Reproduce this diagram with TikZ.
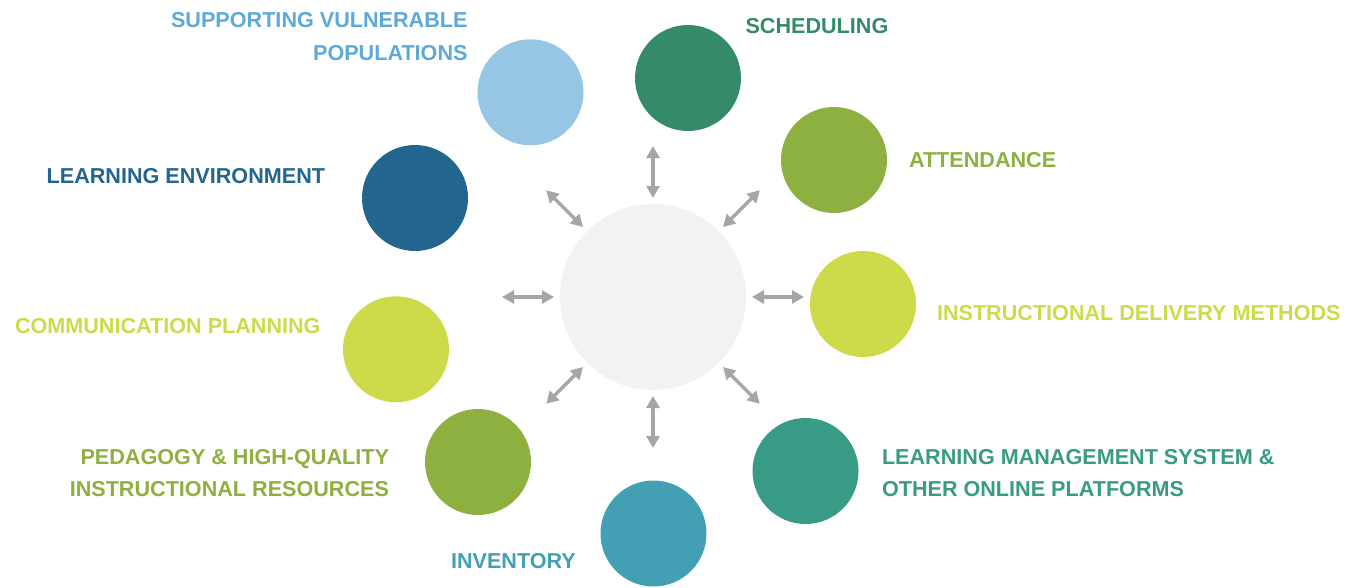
\documentclass[tikz,border=0pt]{standalone}
\usepackage{fontspec}
\setmainfont{Liberation Sans}
\usetikzlibrary{arrows.meta,calc}
\definecolor{cCenter}{HTML}{F2F2F2}
\definecolor{cArrow}{HTML}{A6A6A6}
\definecolor{cLtBlue}{HTML}{97C6E4}
\definecolor{cLtBlueTxt}{HTML}{5DA9D9}
\definecolor{cSched}{HTML}{358A68}
\definecolor{cOlive}{HTML}{8EB040}
\definecolor{cNavy}{HTML}{22668F}
\definecolor{cLime}{HTML}{CDDA4A}
\definecolor{cTeal}{HTML}{389B86}
\definecolor{cInv}{HTML}{43A0B4}
\begin{document}
\begin{tikzpicture}[x=1pt,y=-1pt,
  dot/.style={circle,minimum size=106pt,inner sep=0pt,outer sep=0pt,fill=#1},
  lbl/.style={inner sep=0pt,outer sep=0pt,text=#1,font=\fontsize{21.6}{32.3}\selectfont\bfseries},
  arr/.style={draw=cArrow,line width=3.4pt,>={Triangle[length=12pt,width=13pt]},<->}]
\useasboundingbox (0,0) rectangle (1348,587);

\node[dot=cCenter,minimum size=186pt] (c) at (653,297) {};
\node[dot=cLtBlue] (vul) at (530.5,92.3) {};
\node[dot=cSched]  (sch) at (688,78) {};
\node[dot=cOlive]  (att) at (834,160) {};
\node[dot=cNavy]   (env) at (415,198) {};
\node[dot=cLime]   (ins) at (863,304) {};
\node[dot=cLime]   (com) at (396,349.3) {};
\node[dot=cTeal]   (lms) at (805.5,471) {};
\node[dot=cOlive]  (ped) at (478,462) {};
\node[dot=cInv]    (inv) at (653.5,533.5) {};

\foreach \a in {0,45,...,315}
  \draw[arr] ($(c.center)!99pt!(c.\a)$) -- ($(c.center)!151pt!(c.\a)$);

\node[lbl=cLtBlueTxt,align=right,anchor=north east] (tvul) at (467.5,12.7) {SUPPORTING VULNERABLE\\POPULATIONS};
\node[lbl=cSched,anchor=base west] (tsch) at (745.5,33.3) {SCHEDULING};
\node[lbl=cOlive,anchor=base west] (tatt) at (909,167.7) {ATTENDANCE};
\node[lbl=cNavy,anchor=base west] (tenv) at (46.7,183.3) {LEARNING ENVIRONMENT};
\node[lbl=cLime,anchor=base west] (tins) at (937,320) {INSTRUCTIONAL DELIVERY METHODS};
\node[lbl=cLime,anchor=base west] (tcom) at (15,333.3) {COMMUNICATION PLANNING};
\node[lbl=cOlive,align=right,anchor=north east] (tped) at (389,449) {PEDAGOGY \& HIGH-QUALITY\\INSTRUCTIONAL RESOURCES};
\node[lbl=cTeal,align=left,anchor=north west] (tlms) at (882,449) {LEARNING MANAGEMENT SYSTEM \&\\OTHER ONLINE PLATFORMS};
\node[lbl=cInv,anchor=base west] (tinv) at (451,568.3) {INVENTORY};
\end{tikzpicture}
\end{document}
